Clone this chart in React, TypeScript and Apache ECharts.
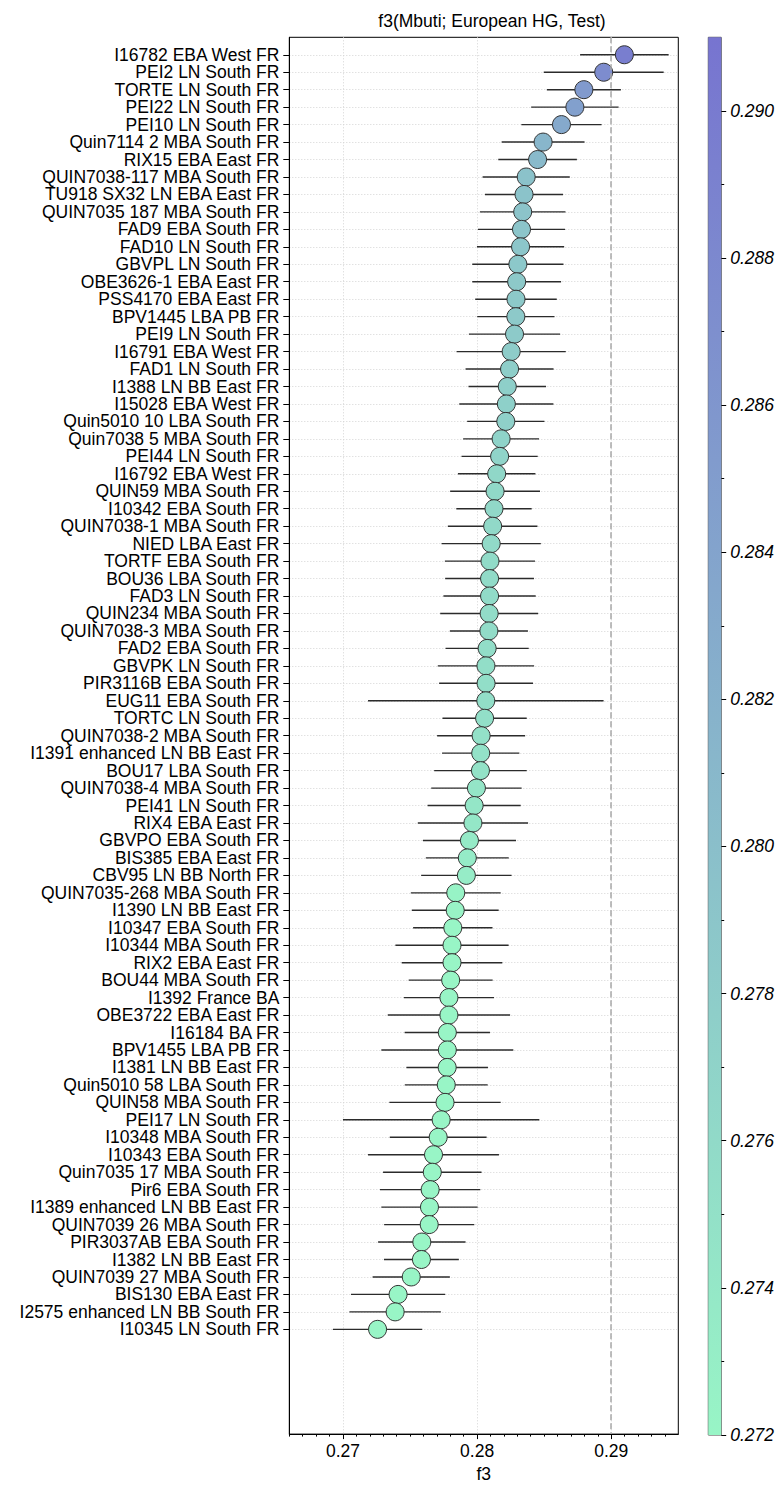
import React, { useEffect, useRef } from "react";
import * as echarts from "echarts";

const labels = [
  "I16782 EBA West FR", "PEI2 LN South FR", "TORTE LN South FR", "PEI22 LN South FR", "PEI10 LN South FR",
  "Quin7114 2 MBA South FR", "RIX15 EBA East FR", "QUIN7038-117 MBA South FR", "TU918 SX32 LN EBA East FR",
  "QUIN7035 187 MBA South FR", "FAD9 EBA South FR", "FAD10 LN South FR", "GBVPL LN South FR",
  "OBE3626-1 EBA East FR", "PSS4170 EBA East FR", "BPV1445 LBA PB FR", "PEI9 LN South FR",
  "I16791 EBA West FR", "FAD1 LN South FR", "I1388 LN BB East FR", "I15028 EBA West FR",
  "Quin5010 10 LBA South FR", "Quin7038 5 MBA South FR", "PEI44 LN South FR", "I16792 EBA West FR",
  "QUIN59 MBA South FR", "I10342 EBA South FR", "QUIN7038-1 MBA South FR", "NIED LBA East FR",
  "TORTF EBA South FR", "BOU36 LBA South FR", "FAD3 LN South FR", "QUIN234 MBA South FR",
  "QUIN7038-3 MBA South FR", "FAD2 EBA South FR", "GBVPK LN South FR", "PIR3116B EBA South FR",
  "EUG11 EBA South FR", "TORTC LN South FR", "QUIN7038-2 MBA South FR", "I1391 enhanced LN BB East FR",
  "BOU17 LBA South FR", "QUIN7038-4 MBA South FR", "PEI41 LN South FR", "RIX4 EBA East FR",
  "GBVPO EBA South FR", "BIS385 EBA East FR", "CBV95 LN BB North FR", "QUIN7035-268 MBA South FR",
  "I1390 LN BB East FR", "I10347 EBA South FR", "I10344 MBA South FR", "RIX2 EBA East FR",
  "BOU44 MBA South FR", "I1392 France BA", "OBE3722 EBA East FR", "I16184 BA FR", "BPV1455 LBA PB FR",
  "I1381 LN BB East FR", "Quin5010 58 LBA South FR", "QUIN58 MBA South FR", "PEI17 LN South FR",
  "I10348 MBA South FR", "I10343 EBA South FR", "Quin7035 17 MBA South FR", "Pir6 EBA South FR",
  "I1389 enhanced LN BB East FR", "QUIN7039 26 MBA South FR", "PIR3037AB EBA South FR",
  "I1382 LN BB East FR", "QUIN7039 27 MBA South FR", "BIS130 EBA East FR",
  "I2575 enhanced LN BB South FR", "I10345 LN South FR",
];

const f3Values = [
  0.29098, 0.28944, 0.28796, 0.28729, 0.28629, 0.28492, 0.28451, 0.28366, 0.2835, 0.2834,
  0.28331, 0.28324, 0.28304, 0.28295, 0.2829, 0.28289, 0.28279, 0.28254, 0.28242, 0.28225,
  0.28218, 0.28214, 0.28179, 0.28168, 0.28146, 0.28134, 0.28126, 0.28116, 0.28105, 0.28096,
  0.28093, 0.28093, 0.2809, 0.28088, 0.28075, 0.28066, 0.28067, 0.28065, 0.28056, 0.2803,
  0.28027, 0.28025, 0.27995, 0.27978, 0.27969, 0.27943, 0.27927, 0.2792, 0.27841, 0.27837,
  0.27819, 0.27813, 0.27813, 0.27803, 0.2779, 0.2779, 0.27778, 0.27778, 0.27777, 0.2777,
  0.27761, 0.27732, 0.2771, 0.27675, 0.27666, 0.2765, 0.27645, 0.27643, 0.27588, 0.27585,
  0.27509, 0.27411, 0.27389, 0.27258,
];

const f3Errors = [
  0.0033, 0.00447, 0.00276, 0.00326, 0.00299, 0.00309, 0.00293, 0.00325, 0.00291, 0.00319,
  0.00325, 0.00325, 0.0034, 0.00331, 0.00304, 0.00288, 0.0034, 0.00407, 0.00328, 0.00289,
  0.00351, 0.00288, 0.00283, 0.00284, 0.00289, 0.00335, 0.00281, 0.00334, 0.0037, 0.00336,
  0.00331, 0.00344, 0.00365, 0.00291, 0.0031, 0.00359, 0.0035, 0.00878, 0.00314, 0.00328,
  0.00288, 0.00345, 0.00337, 0.00347, 0.00411, 0.00347, 0.00309, 0.00337, 0.00335, 0.00324,
  0.00296, 0.00422, 0.00375, 0.00313, 0.00336, 0.00456, 0.00318, 0.00492, 0.00304, 0.00309,
  0.00415, 0.00732, 0.00361, 0.00488, 0.00367, 0.00374, 0.00359, 0.00336, 0.00326, 0.00279,
  0.00288, 0.00351, 0.00341, 0.00333,
];

const xMajorTicks = [0.27, 0.28, 0.29];
const xMinorTicks = [
  0.266, 0.267, 0.268, 0.269, 0.271, 0.272, 0.273, 0.274, 0.275, 0.276, 0.277, 0.278, 0.279,
  0.281, 0.282, 0.283, 0.284, 0.285, 0.286, 0.287, 0.288, 0.289, 0.291, 0.292, 0.293, 0.294,
];
const cbMajorTicks = [0.272, 0.274, 0.276, 0.278, 0.28, 0.282, 0.284, 0.286, 0.288, 0.29];
const cbMinorTicks = [0.273, 0.275, 0.277, 0.279, 0.281, 0.283, 0.285, 0.287, 0.289];
// blank slots above and below the rows (one empty row on top, six at the bottom)
const padTop = ["_pad0"];
const padBottom = ["_pad1", "_pad2", "_pad3", "_pad4", "_pad5", "_pad6"];
const refLine = 0.29;
const xMin = 0.266;
const xMax = 0.295;
const cbMin = 0.272;
const cbMax = 0.291;
const dotColorMin = 0.2782;
const dotColorMax = 0.292;
const cbColors = ["#98f5c6", "#7774d0"];
const title = "f3(Mbuti; European HG, Test)";
const xName = "f3";

const FONT = "'Liberation Sans', Arial, Helvetica, sans-serif";

export default function App() {
  const ref = useRef<HTMLDivElement>(null);
  useEffect(() => {
    if (!ref.current) return;
    const chart = echarts.init(ref.current, undefined, { renderer: "svg" });
    const gridLeft = 289.3;
    const gridTop = 37.3;
    const gridW = 389;
    const gridH = 1397.7;

    const yCategories = [...padTop, ...labels, ...padBottom];
    const off = padTop.length;
    const isRow = (idx: number) => idx >= off && idx < off + labels.length;

    const option: any = {
      animation: false,
      backgroundColor: "#fff",
      textStyle: { fontFamily: FONT },
      title: {
        text: title,
        left: 487,
        top: 7,
        textAlign: "center",
        textStyle: { fontFamily: FONT, fontSize: 17.5, fontWeight: "normal", color: "#000" },
      },
      grid: [
        { left: gridLeft, top: gridTop, width: gridW, height: gridH, show: true, borderColor: "#000", borderWidth: 1, backgroundColor: "transparent" },
        { left: 708.3, top: gridTop, width: 21, height: gridH, show: true, borderColor: "#444", borderWidth: 1, backgroundColor: "transparent" },
      ],
      xAxis: [
        {
          type: "value", gridIndex: 0, min: xMin, max: xMax, position: "bottom",
          name: xName, nameLocation: "middle", nameGap: 30,
          nameTextStyle: { fontFamily: FONT, fontSize: 17.5, color: "#000" },
          axisLine: { show: true, onZero: false, lineStyle: { color: "#000", width: 1 } },
          axisTick: { show: true, customValues: xMajorTicks, length: 5, lineStyle: { color: "#000" } },
          axisLabel: { show: true, customValues: xMajorTicks, margin: 8, fontFamily: FONT, fontSize: 17.5, color: "#000", formatter: (v: number) => v.toFixed(2) },
          splitLine: { show: true, lineStyle: { color: "#d4d4d4", width: 1, type: [1, 2] } },
        },
        {
          type: "value", gridIndex: 0, min: xMin, max: xMax, position: "bottom",
          axisLine: { show: false, onZero: false },
          axisTick: { show: true, customValues: xMinorTicks, length: 2.5, lineStyle: { color: "#000" } },
          axisLabel: { show: false },
          splitLine: { show: false },
        },
        {
          type: "value", gridIndex: 1, min: 0, max: 1, show: false,
          axisLine: { onZero: false },
        },
      ],
      yAxis: [
        {
          // numeric row axis used by the series (row i at value i)
          type: "value", gridIndex: 0, min: -off, max: labels.length + padBottom.length - 1, inverse: true, position: "left",
          show: false,
          axisLine: { show: false, onZero: false },
          axisTick: { show: false },
          axisLabel: { show: false },
          splitLine: { show: false },
        },
        {
          // category axis carrying the row names, aligned with the numeric rows
          type: "category", gridIndex: 0, data: yCategories, inverse: true, boundaryGap: false, position: "left",
          axisLine: { show: true, onZero: false, lineStyle: { color: "#000", width: 1 } },
          axisTick: { show: true, interval: (idx: number) => isRow(idx), length: 6, lineStyle: { color: "#000" } },
          axisLabel: {
            show: true, interval: 0, margin: 10, fontFamily: FONT, fontSize: 17.5, color: "#000",
            formatter: (v: string) => (v.startsWith("_pad") ? "" : v),
          },
          splitLine: { show: true, interval: (idx: number) => isRow(idx), lineStyle: { color: "#d4d4d4", width: 1, type: [1, 2] } },
        },
        {
          type: "value", gridIndex: 1, min: cbMin, max: cbMax, position: "right",
          axisLine: { show: false, onZero: false },
          axisTick: { show: true, customValues: cbMajorTicks, length: 5, lineStyle: { color: "#000" } },
          axisLabel: {
            show: true, customValues: cbMajorTicks, margin: 9, fontFamily: FONT, fontSize: 17.5, fontStyle: "italic", color: "#000",
            formatter: (v: number) => v.toFixed(3),
          },
          splitLine: { show: false },
        },
        {
          type: "value", gridIndex: 1, min: cbMin, max: cbMax, position: "right",
          axisLine: { show: false, onZero: false },
          axisTick: { show: true, customValues: cbMinorTicks, length: 3, lineStyle: { color: "#000" } },
          axisLabel: { show: false },
          splitLine: { show: false },
        },
      ],
      visualMap: {
        type: "continuous",
        show: false,
        seriesIndex: 1,
        dimension: 0,
        min: dotColorMin,
        max: dotColorMax,
        inRange: { color: cbColors },
      },
      series: [
        {
          type: "custom",
          xAxisIndex: 0,
          yAxisIndex: 0,
          z: 2,
          data: f3Values.map((v, i) => [v - f3Errors[i], v + f3Errors[i], i]),
          encode: { x: [0, 1], y: 2 },
          renderItem: (params: any, api: any) => {
            const p1 = api.coord([api.value(0), api.value(2)]);
            const p2 = api.coord([api.value(1), api.value(2)]);
            return {
              type: "line",
              shape: { x1: p1[0], y1: p1[1], x2: p2[0], y2: p2[1] },
              style: { stroke: "#2b2b2b", lineWidth: 1.4 },
            };
          },
          markLine: {
            silent: true,
            symbol: ["none", "none"],
            label: { show: false },
            lineStyle: { color: "#a8a8a8", type: [6, 3], width: 1.5 },
            data: [{ xAxis: refLine }],
          },
        },
        {
          type: "scatter",
          xAxisIndex: 0,
          yAxisIndex: 0,
          z: 3,
          symbol: "circle",
          symbolSize: 18,
          data: f3Values.map((v, i) => [v, i]),
          itemStyle: { borderColor: "#333", borderWidth: 1, opacity: 1 },
        },
        {
          type: "custom",
          xAxisIndex: 2,
          yAxisIndex: 2,
          z: 1,
          data: [[0, cbMin, 1, cbMax]],
          encode: { x: [0, 2], y: [1, 3] },
          renderItem: (params: any, api: any) => {
            const top = api.coord([api.value(0), api.value(3)]);
            const bot = api.coord([api.value(2), api.value(1)]);
            return {
              type: "rect",
              shape: { x: top[0], y: top[1], width: bot[0] - top[0], height: bot[1] - top[1] },
              style: {
                fill: new echarts.graphic.LinearGradient(0, 0, 0, 1, [
                  { offset: 0, color: cbColors[1] },
                  { offset: 1, color: cbColors[0] },
                ]),
                stroke: "none",
              },
            };
          },
        },
      ],
    };
    chart.setOption(option);
    return () => chart.dispose();
  }, []);
  return (
    <div
      ref={ref}
      style={{ position: "absolute", left: 0, top: 0, width: 777, height: 1488, background: "#fff" }}
    />
  );
}
